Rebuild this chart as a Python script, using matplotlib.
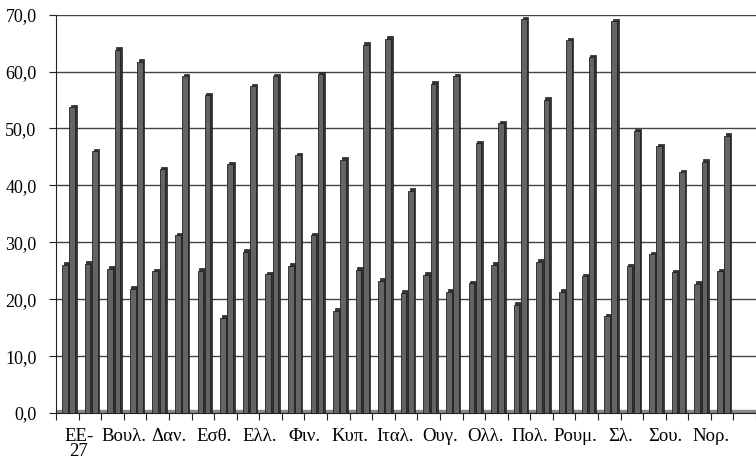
import numpy as np
import matplotlib
matplotlib.use("Agg")
import matplotlib.pyplot as plt

plt.rcParams["font.family"] = ["Liberation Serif", "DejaVu Serif"]

# shown labels (every second category)
LABELS = ["ΕΕ-\n27", "Βουλ.", "Δαν.", "Εσθ.", "Ελλ.", "Φιν.", "Κυπ.", "Ιταλ.",
          "Ουγ.", "Ολλ.", "Πολ.", "Ρουμ.", "Σλ.", "Σου.", "Νορ."]

LOW = [26.0, 26.2, 25.3, 21.8, 24.9, 31.2, 25.0, 16.7, 28.3, 24.4,
       25.9, 31.2, 18.0, 25.2, 23.2, 21.1, 24.3, 21.3, 22.8, 26.0,
       19.0, 26.6, 21.3, 24.0, 17.0, 25.8, 27.9, 24.7, 22.7, 24.9]
HIGH = [53.7, 46.0, 63.8, 61.7, 42.8, 59.2, 55.8, 43.7, 57.4, 59.2,
        45.3, 59.5, 44.5, 64.7, 65.8, 39.1, 57.9, 59.2, 47.4, 50.9,
        69.2, 55.0, 65.5, 62.5, 68.8, 49.5, 46.9, 42.3, 44.1, 48.7]

FRONT = "#646464"
SIDE = "#333333"
EDGE = "#222222"

fig = plt.figure(figsize=(7.56, 4.67), dpi=100)
ax = fig.add_axes([0.0741, 0.1156, 0.926, 0.853])

n = len(LOW)
idx = np.arange(n)
w = 0.25
dx, dy = 0.07, 0.45

for offset, values in [(0.27, LOW), (0.59, HIGH)]:
    vals = np.array(values)
    ax.bar(idx + offset + dx, vals + dy, width=w, align="edge",
           color=SIDE, edgecolor=EDGE, linewidth=0.5, zorder=3)
    ax.bar(idx + offset, vals, width=w, align="edge",
           color=FRONT, edgecolor=EDGE, linewidth=0.6, zorder=4)

# floor
ax.axhspan(0, 0.5, color="#8a8a8a", zorder=2)
ax.axhline(0, color="#333333", lw=0.8, zorder=2)

ax.set_xlim(0, 31)
ax.set_ylim(0, 70)
ax.set_yticks(np.arange(0, 71, 10))
ax.set_yticklabels([f"{v:.1f}".replace(".", ",") for v in np.arange(0, 71, 10)],
                   fontsize=13)
ax.yaxis.grid(True, color="#444444", lw=1.0, zorder=1)
ax.set_axisbelow(True)

ax.set_xticks(np.arange(0, 32), minor=True)
ax.set_xticks(np.arange(1, 30, 2))
ax.set_xticklabels(LABELS, fontsize=13.5, linespacing=0.8, va="top")
ax.tick_params(axis="x", which="both", length=5, width=0.8, color="#222222", pad=6)
ax.tick_params(axis="y", length=5, width=0.8, color="#222222", pad=9)

for side in ["top", "right"]:
    ax.spines[side].set_visible(False)
ax.spines["left"].set_color("#222222")
ax.spines["bottom"].set_color("#222222")

fig.savefig("out.png", dpi=100)
